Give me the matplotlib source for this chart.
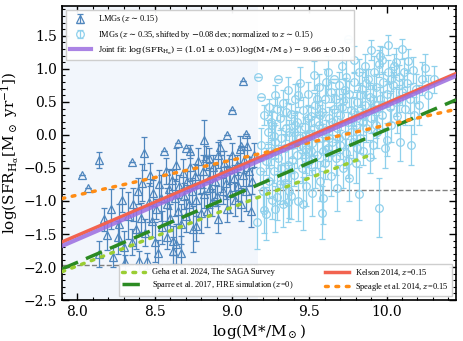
import numpy as np
import matplotlib
matplotlib.use("Agg")
import matplotlib.pyplot as plt
from matplotlib.ticker import MultipleLocator

plt.rcParams['font.family'] = ['DejaVu Serif']
plt.rcParams['mathtext.fontset'] = 'dejavuserif'

# low-mass galaxies (z~0.15): stellar mass, SFR, error
lmg_mass = [8.03, 8.07, 8.14, 8.14, 8.17, 8.19, 8.22, 8.23, 8.26, 8.27, 8.29, 8.30, 8.31, 8.33,
            8.35, 8.35, 8.36, 8.38, 8.39, 8.40, 8.41, 8.42, 8.43, 8.44, 8.45, 8.46, 8.47, 8.48,
            8.49, 8.50, 8.51, 8.52, 8.53, 8.54, 8.55, 8.56, 8.57, 8.58, 8.58, 8.59, 8.60, 8.61,
            8.62, 8.62, 8.63, 8.64, 8.64, 8.65, 8.65, 8.66, 8.67, 8.67, 8.68, 8.69, 8.70, 8.70,
            8.71, 8.72, 8.73, 8.73, 8.74, 8.75, 8.76, 8.77, 8.77, 8.78, 8.79, 8.80, 8.81, 8.82,
            8.82, 8.83, 8.84, 8.85, 8.85, 8.86, 8.87, 8.88, 8.89, 8.90, 8.91, 8.91, 8.92, 8.93,
            8.94, 8.95, 8.96, 8.97, 8.97, 8.98, 8.99, 9.00, 9.00, 9.01, 9.02, 9.03, 9.04, 9.05,
            9.06, 9.06, 9.07, 9.07, 9.08, 9.09, 9.09, 9.10, 9.11, 9.12, 9.13, 9.14]
lmg_sfr = [-0.61, -0.80, -0.38, -1.80, -1.28, -1.52, -1.12, -1.85, -1.55, -1.35, -0.98, -1.70, -1.93, -1.22,
           -0.41, -1.62, -1.05, -1.42, -0.85, -1.91, -1.25, -0.72, -0.28, -1.48, -1.91, -1.02, -0.60, -1.30,
           -0.88, -1.62, -1.12, -1.79, -0.75, -0.95, -1.40, -0.25, -0.55, -1.55, -1.05, -0.82, -1.25, -0.68,
           -1.75, -1.60, -0.95, -1.65, -0.45, -0.12, -1.15, -0.78, -1.78, -1.35, -0.58, -0.92, -0.20, -1.22,
           -0.70, -1.05, -0.25, -0.48, -0.85, -1.42, -0.62, -1.38, -0.98, -0.40, -0.75, -1.18, -0.55, -0.08,
           -0.90, -0.35, -1.15, -0.65, -0.35, -0.80, -1.02, -0.48, -0.70, -0.92, -1.27, -0.30, -0.19, -0.58,
           -0.85, -0.42, -0.72, 0.00, -1.12, -0.52, -0.88, 0.38, -0.30, -0.65, -0.98, -0.45, -0.78, -0.22,
           -1.05, -0.17, 0.82, -0.60, -0.38, 0.02, -0.85, -0.17, -0.55, -1.15, -0.70, -0.30]
lmg_err = [0.00, 0.00, 0.12, 0.20, 0.18, 0.22, 0.30, 0.15, 0.25, 0.30, 0.18, 0.25, 0.12, 0.35,
           0.00, 0.20, 0.25, 0.30, 0.20, 0.15, 0.22, 0.28, 0.25, 0.20, 0.12, 0.30, 0.18, 0.25,
           0.20, 0.30, 0.15, 0.20, 0.22, 0.35, 0.25, 0.00, 0.20, 0.18, 0.25, 0.30, 0.20, 0.15,
           0.20, 0.22, 0.28, 0.30, 0.25, 0.00, 0.20, 0.18, 0.25, 0.30, 0.22, 0.20, 0.00, 0.25,
           0.15, 0.28, 0.10, 0.22, 0.20, 0.35, 0.18, 0.22, 0.25, 0.20, 0.15, 0.30, 0.25, 0.30,
           0.20, 0.18, 0.25, 0.22, 0.15, 0.30, 0.20, 0.18, 0.25, 0.15, 0.22, 0.20, 0.12, 0.28,
           0.20, 0.18, 0.25, 0.00, 0.20, 0.22, 0.30, 0.00, 0.18, 0.20, 0.25, 0.15, 0.22, 0.20,
           0.25, 0.00, 0.00, 0.18, 0.20, 0.00, 0.30, 0.15, 0.22, 0.25, 0.20, 0.18]

# intermediate-mass galaxies (z~0.35, shifted)
img_mass = [9.16, 9.17, 9.18, 9.19, 9.19, 9.20, 9.21, 9.21, 9.22, 9.22, 9.23, 9.24, 9.24, 9.25,
            9.26, 9.26, 9.27, 9.28, 9.28, 9.29, 9.30, 9.30, 9.31, 9.31, 9.32, 9.33, 9.33, 9.34,
            9.34, 9.35, 9.36, 9.36, 9.37, 9.38, 9.38, 9.39, 9.40, 9.40, 9.41, 9.42, 9.42, 9.43,
            9.44, 9.44, 9.45, 9.46, 9.46, 9.47, 9.48, 9.48, 9.49, 9.50, 9.50, 9.51, 9.52, 9.52,
            9.53, 9.54, 9.54, 9.55, 9.56, 9.56, 9.57, 9.58, 9.58, 9.59, 9.60, 9.60, 9.61, 9.62,
            9.62, 9.63, 9.64, 9.64, 9.65, 9.66, 9.66, 9.67, 9.68, 9.68, 9.69, 9.70, 9.70, 9.71,
            9.72, 9.72, 9.73, 9.74, 9.74, 9.75, 9.75, 9.76, 9.76, 9.77, 9.78, 9.79, 9.79, 9.80,
            9.80, 9.81, 9.82, 9.82, 9.83, 9.84, 9.84, 9.85, 9.86, 9.86, 9.87, 9.88, 9.89, 9.89,
            9.90, 9.90, 9.91, 9.92, 9.92, 9.93, 9.94, 9.95, 9.95, 9.96, 9.96, 9.97, 9.97, 9.98,
            9.99, 10.00, 10.00, 10.01, 10.01, 10.02, 10.03, 10.04, 10.05, 10.06, 10.06, 10.07, 10.08, 10.09,
            10.10, 10.10, 10.11, 10.12, 10.13, 10.14, 10.15, 10.16, 10.17, 10.18, 10.19, 10.21, 10.23, 10.25,
            10.27, 10.31,
            9.23, 9.25, 9.27, 9.29, 9.32, 9.35, 9.37, 9.39, 9.41, 9.43, 9.45, 9.47, 9.49, 9.51,
            9.53, 9.55, 9.57, 9.59, 9.61, 9.63, 9.65, 9.67, 9.69, 9.71, 9.73, 9.75, 9.77, 9.79,
            9.81, 9.83, 9.85, 9.87, 9.91, 9.93, 9.97, 10.03, 10.08, 9.58, 9.28, 9.36]
img_sfr = [-1.32, 0.87, -0.55, 0.57, -0.15, -0.85, -1.14, 0.30, -1.19, -0.40, 0.05, -0.70, 0.42, -0.25,
           -0.98, 0.15, -0.55, 0.60, -0.10, -0.94, 0.85, -0.35, 0.25, -0.75, -0.05, 0.48, -1.05, -0.73,
           -0.20, 0.10, 0.68, -0.45, -0.85, -0.92, 0.32, -0.15, 0.05, -0.60, 0.55, -0.30, 0.20, -1.00,
           -0.05, 0.78, -0.50, -1.04, 0.38, 0.12, -0.22, -0.78, 0.62, -0.40, 0.02, 0.28, -0.88, -0.12,
           0.90, 0.45, -0.55, -0.30, 0.15, 0.72, -0.70, -0.05, 0.35, -0.95, 0.55, -0.42, 0.08, -0.20,
           0.95, 0.25, -0.62, 0.65, -0.10, 0.84, 0.40, -0.35, 0.10, -0.80, 0.75, -0.15, 0.30, 1.05,
           -0.50, 0.52, 0.00, 0.88, -0.28, 1.45, 0.20, -0.65, 0.62, 0.38, -0.10, 1.14, 0.80, -0.43,
           0.15, 0.50, -0.89, 0.95, -0.05, 0.30, 0.70, -0.25, 1.05, 0.45, 0.10, 0.85, -0.33, 0.58,
           1.28, 0.25, -0.15, 0.95, 0.40, 0.72, 0.05, -1.10, 1.08, 0.55, 1.20, 1.13, 0.30, 0.80,
           -0.20, -0.07, 0.62, 1.36, 0.95, 0.42, 0.15, 0.75, 1.05, 1.11, 0.50, 0.28, 0.88, -0.10,
           1.30, 0.65, 0.95, 0.40, 0.78, 1.12, 0.55, -0.15, 0.98, 0.30, 0.70, 0.45, 0.85, 1.02,
           0.60, 0.84,
           -0.30, 0.20, -0.02, 0.40, -0.50, 0.35, 0.05, -0.38, 0.15, 0.60, -0.15, -0.35, 0.25, -0.25,
           0.10, 0.55, 0.30, -0.25, 0.80, -0.05, 0.20, 0.55, -0.05, 0.42, 0.68, -0.40, 0.05, 0.35,
           -0.20, 0.60, 0.20, 0.78, 0.55, 0.15, 0.45, 0.85, 0.55, -1.18, -1.12, -1.02]
img_err = [0.40, 0.00, 0.20, 0.00, 0.25, 0.30, 0.35, 0.15, 0.40, 0.20, 0.18, 0.25, 0.12, 0.20,
           0.30, 0.22, 0.18, 0.15, 0.25, 0.35, 0.00, 0.20, 0.18, 0.30, 0.15, 0.20, 0.35, 0.30,
           0.22, 0.18, 0.20, 0.25, 0.40, 0.35, 0.15, 0.20, 0.25, 0.18, 0.22, 0.20, 0.15, 0.30,
           0.18, 0.25, 0.22, 0.40, 0.20, 0.15, 0.25, 0.30, 0.18, 0.20, 0.22, 0.15, 0.35, 0.20,
           0.22, 0.18, 0.25, 0.20, 0.15, 0.20, 0.30, 0.22, 0.18, 0.40, 0.20, 0.25, 0.15, 0.20,
           0.25, 0.18, 0.30, 0.15, 0.20, 0.00, 0.22, 0.25, 0.18, 0.35, 0.20, 0.22, 0.15, 0.20,
           0.30, 0.18, 0.20, 0.25, 0.22, 0.00, 0.15, 0.35, 0.20, 0.18, 0.25, 0.20, 0.15, 0.30,
           0.22, 0.18, 0.40, 0.20, 0.22, 0.15, 0.25, 0.20, 0.18, 0.22, 0.20, 0.15, 0.25, 0.20,
           0.15, 0.22, 0.20, 0.25, 0.18, 0.20, 0.25, 0.45, 0.20, 0.18, 0.15, 0.20, 0.22, 0.15,
           0.30, 0.25, 0.20, 0.15, 0.18, 0.22, 0.25, 0.20, 0.18, 0.20, 0.22, 0.25, 0.18, 0.30,
           0.15, 0.20, 0.22, 0.25, 0.20, 0.18, 0.22, 0.30, 0.20, 0.28, 0.22, 0.30, 0.25, 0.20,
           0.30, 0.20,
           0.20, 0.15, 0.20, 0.18, 0.25, 0.20, 0.18, 0.20, 0.22, 0.18, 0.20, 0.22, 0.20, 0.25,
           0.18, 0.20, 0.15, 0.22, 0.20, 0.18, 0.20, 0.15, 0.22, 0.20, 0.18, 0.25, 0.20, 0.22,
           0.20, 0.18, 0.20, 0.22, 0.20, 0.20, 0.20, 0.18, 0.20, 0.40, 0.35, 0.30]

# linear relations: log SFR = slope * log M + intercept
joint_fit = (1.01, -9.66)
kelson = (1.00, -9.52)
sparre = (1.004, -9.96)
speagle = (0.53, -5.15)
geha = (0.886, -9.07)
geha_range = (7.9, 9.91)

mass_split = 9.17
lmg_limit = -1.97
img_limit = -0.83

xlim = (7.9, 10.45)
ylim = (-2.5, 1.95)

fig = plt.figure(figsize=(4.63, 3.41), dpi=100)
ax = fig.add_axes([0.134, 0.12, 0.851, 0.862])

# shaded low-mass region and the detection limits
ax.axvspan(xlim[0], mass_split, color='#f2f6fc', zorder=0, lw=0)
ax.plot([xlim[0], mass_split], [lmg_limit, lmg_limit], ls='--', color='gray', lw=1, zorder=1)
ax.plot([mass_split, xlim[1]], [img_limit, img_limit], ls='--', color='gray', lw=1, zorder=1)

h_lmg = ax.errorbar(lmg_mass, lmg_sfr, yerr=lmg_err, fmt='^', ms=6, mfc='none', mec='#4f86bd',
                    mew=0.9, ecolor='#4f86bd', elinewidth=0.9, capsize=2, capthick=0.9, zorder=3)
h_img = ax.errorbar(img_mass, img_sfr, yerr=img_err, fmt='o', ms=5.5, mfc='none', mec='#8fd0ec',
                    mew=0.9, ecolor='#8fd0ec', elinewidth=0.9, capsize=2, capthick=0.9, zorder=2)

xx = np.linspace(xlim[0], xlim[1], 100)
h_kel, = ax.plot(xx, kelson[0] * xx + kelson[1], color='#f2634f', lw=2.5, zorder=4)
h_fit, = ax.plot(xx, joint_fit[0] * xx + joint_fit[1], color='#9b6de0', lw=3, alpha=0.85, zorder=5)
h_spa, = ax.plot(xx, sparre[0] * xx + sparre[1], color='#2b8a22', lw=2.5, ls=(0, (5, 2.5)), zorder=4)
h_spe, = ax.plot(xx, speagle[0] * xx + speagle[1], color='#ff8c14', lw=2.5, ls=(0, (0.8, 2.2)),
                 dash_capstyle='round', zorder=4)
xg = np.linspace(geha_range[0], geha_range[1], 100)
h_geh, = ax.plot(xg, geha[0] * xg + geha[1], color='#9acd32', lw=2.5, ls=(0, (0.8, 2.2)),
                 dash_capstyle='round', zorder=4)

ax.set_xlim(*xlim)
ax.set_ylim(*ylim)
ax.xaxis.set_major_locator(MultipleLocator(0.5))
ax.xaxis.set_minor_locator(MultipleLocator(0.1))
ax.yaxis.set_major_locator(MultipleLocator(0.5))
ax.yaxis.set_minor_locator(MultipleLocator(0.1))
ax.tick_params(which='both', direction='in', top=True, right=True, labelsize=10)
ax.tick_params(which='major', length=5, width=1)
ax.tick_params(which='minor', length=2.5, width=0.8)
for s in ax.spines.values():
    s.set_linewidth(1.2)

ax.set_xlabel(r'log(M$*$/M$_\odot$)', fontsize=11, labelpad=2)
ax.set_ylabel(r'log(SFR$_{\rm H_\alpha}$[M$_\odot$ yr$^{-1}$])', fontsize=11, labelpad=2)

leg1 = ax.legend([h_lmg, h_img, h_fit],
                 [r'LMGs ($z\sim$0.15)',
                  r'IMGs ($z\sim$0.35, shifted by $-$0.08 dex; normalized to $z\sim$0.15)',
                  r'Joint fit: $\log(\mathrm{SFR_{H_\alpha}})=(1.01\pm0.03)\,\log(\mathrm{M_*/M_\odot})-9.66\pm0.30$'],
                 loc='upper left', prop={'family': 'Liberation Serif', 'size': 6},
                 framealpha=0.95, edgecolor='#cccccc', borderpad=0.4, labelspacing=0.45,
                 handlelength=2.6, fancybox=False)
leg1.set_zorder(10)
ax.add_artist(leg1)

leg2 = ax.legend([h_geh, h_spa, h_kel, h_spe],
                 ['Geha et al. 2024, The SAGA Survey', r'Sparre et al. 2017, FIRE simulation ($z$=0)',
                  r'Kelson 2014, $z$=0.15', r'Speagle et al. 2014, $z$=0.15'],
                 loc='lower right', ncol=2, prop={'family': 'Liberation Serif', 'size': 6},
                 framealpha=0.95, edgecolor='#cccccc', borderpad=0.4, labelspacing=0.35,
                 handlelength=2.8, columnspacing=3.8, fancybox=False)
leg2.set_zorder(10)

fig.savefig('out.png', dpi=100)
